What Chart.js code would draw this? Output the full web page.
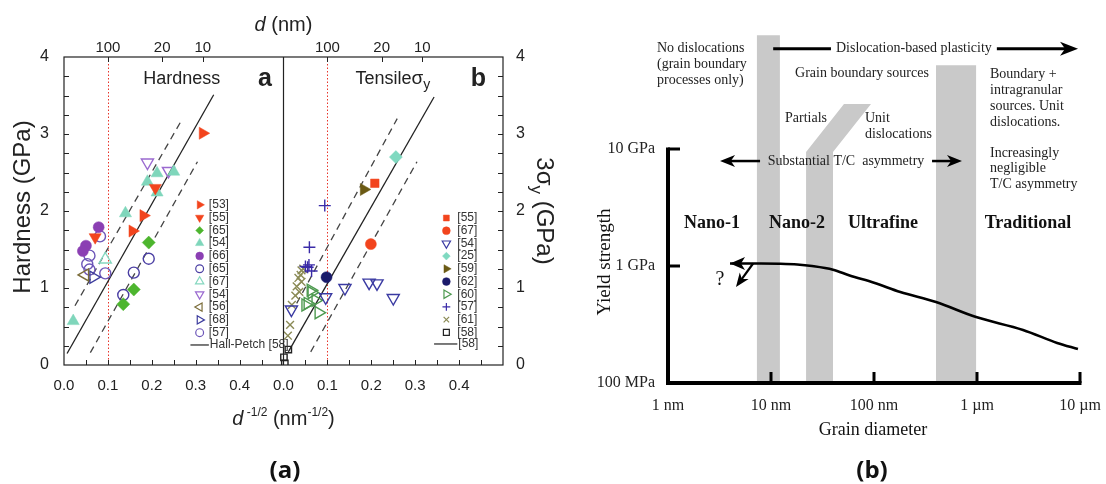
<!DOCTYPE html>
<html><head><meta charset="utf-8">
<script src="https://cdn.jsdelivr.net/npm/chart.js@4.4.1/dist/chart.umd.min.js"></script>
<style>
html,body{margin:0;padding:0;background:#fff;}
body{width:1106px;height:484px;position:relative;overflow:hidden;}
#ca{position:absolute;left:0;top:0;}
#cb{position:absolute;left:560px;top:0;}
.cap{position:absolute;top:453px;width:80px;text-align:center;font:bold 24px "Open Sans","DejaVu Sans",sans-serif;line-height:32px;color:#111;}
</style></head><body>
<canvas id="ca" width="560" height="484"></canvas>
<canvas id="cb" width="546" height="484"></canvas>
<div class="cap" style="left:245px">(a)</div>
<div class="cap" style="left:832px">(b)</div>
<script>
const FA='"Liberation Sans", Arial, Helvetica, sans-serif';
const FT='"Liberation Serif", "Times New Roman", Times, serif';

// ================= (a) data : x = d^-1/2 (nm^-1/2), y = GPa =================
const xTickVals=[0,0.1,0.2,0.3,0.4];
const yTickVals=[0,1,2,3,4];
const topTickD=[100,20,10];           // d (nm) on top axis

// Hardness panel
const hard53=[[0.156,1.74],[0.181,1.94],[0.316,3.01]];
const hard55=[[0.071,1.66],[0.208,2.30]];
const hard65a=[[0.135,0.79],[0.159,0.98],[0.193,1.59]];
const hard54a=[[0.021,0.57],[0.140,1.97],[0.190,2.38],[0.212,2.24],[0.212,2.49],[0.250,2.51]];
const hard66=[[0.079,1.79],[0.050,1.55],[0.043,1.48]];
const hard65b=[[0.135,0.91],[0.159,1.20],[0.193,1.38]];
const hard67=[[0.094,1.37]];
const hard54b=[[0.190,2.63],[0.238,2.52]];
const hard56=[[0.048,1.17]];
const hard68=[[0.067,1.14]];
const hard57=[[0.082,1.67],[0.058,1.42],[0.053,1.31],[0.058,1.24],[0.094,1.19]];
const hardHP=[[0.007,0.15],[0.341,3.51]];
const hardUpper=[[0.025,0.77],[0.270,3.20]];
const hardLower=[[0.060,0.16],[0.304,2.64]];

// Tensile panel (3 sigma_y)
const ten55=[[0.208,2.36]];
const ten67=[[0.199,1.57]];
const ten54=[[0.140,1.00],[0.195,1.07],[0.213,1.06],[0.250,0.87],[0.096,0.88],[0.018,0.72]];
const ten25=[[0.256,2.70]];
const ten59=[[0.183,2.28]];
const ten62=[[0.098,1.14]];
const ten60=[[0.064,0.94],[0.055,0.80],[0.080,0.68],[0.073,0.84],[0.062,0.97],[0.050,0.78]];
const ten57=[[0.094,2.07],[0.059,1.53],[0.055,1.27],[0.064,1.22],[0.050,1.28],[0.058,1.30]];
const ten61=[[0.041,1.23],[0.034,1.13],[0.030,1.02],[0.027,0.90],[0.019,0.78],[0.015,0.52],[0.010,0.38],[0.039,1.17],[0.041,1.08],[0.045,1.25],[0.036,0.95]];
const ten58=[[0.011,0.20],[0.001,0.10],[0.003,0.02]];
const tenHP=[[0.011,0.17],[0.343,3.48]];
const tenUpper=[[0.030,0.80],[0.259,3.20]];
const tenLower=[[0.062,0.17],[0.304,2.64]];

// ================= (b) data : grain diameter (nm) vs yield strength (MPa) =================
const gdTicks=[1,10,100,1000,10000];
const gdLabels=['1 nm','10 nm','100 nm','1 \u00b5m','10 \u00b5m'];
const ysTicks=[100,1000,10000];
const ysLabels=['100 MPa','1 GPa','10 GPa'];
const curveD=[4.0,8,12,18,25,40,58,100,180,400,980,2800,6000,9550];
const curveS=[1050,1050,1045,1030,1000,930,830,720,600,492,366,284,220,195];
const band1=[[7.3,100],[7.3,94000],[12.2,94000],[12.2,100]];
const band2=[[21.9,100],[21.9,9430],[51.1,24250],[93.5,24250],[40.0,9430],[40.0,100]];
const band3=[[400,100],[400,52000],[980,52000],[980,100]];

// ================= styles =================
const RED='#f2441d';
const hardSeries=[
 {ref:'[53]',pts:hard53,shape:'triangle',rot:90,color:RED,filled:true},
 {ref:'[55]',pts:hard55,shape:'triangle',rot:180,color:RED,filled:true},
 {ref:'[65]',pts:hard65a,shape:'rectRot',rot:0,color:'#4db52e',filled:true},
 {ref:'[54]',pts:hard54a,shape:'triangle',rot:0,color:'#7fd6bb',filled:true},
 {ref:'[66]',pts:hard66,shape:'circle',rot:0,color:'#8b3fb3',filled:true},
 {ref:'[65]',pts:hard65b,shape:'circle',rot:0,color:'#4a3ea3',filled:false},
 {ref:'[67]',pts:hard67,shape:'triangle',rot:0,color:'#86d8c0',filled:false},
 {ref:'[54]',pts:hard54b,shape:'triangle',rot:180,color:'#9a6ad0',filled:false},
 {ref:'[56]',pts:hard56,shape:'triangle',rot:-90,color:'#7b6d3a',filled:false},
 {ref:'[68]',pts:hard68,shape:'triangle',rot:90,color:'#3d3d9e',filled:false},
 {ref:'[57]',pts:hard57,shape:'circle',rot:0,color:'#6d56b8',filled:false}
];
const tenSeries=[
 {ref:'[55]',pts:ten55,shape:'rect',rot:0,color:RED,filled:true},
 {ref:'[67]',pts:ten67,shape:'circle',rot:0,color:RED,filled:true},
 {ref:'[54]',pts:ten54,shape:'triangle',rot:180,color:'#3a3aa2',filled:false},
 {ref:'[25]',pts:ten25,shape:'rectRot',rot:0,color:'#7fd9c0',filled:true},
 {ref:'[59]',pts:ten59,shape:'triangle',rot:90,color:'#6b5a14',filled:true},
 {ref:'[62]',pts:ten62,shape:'circle',rot:0,color:'#1b1b6b',filled:true},
 {ref:'[60]',pts:ten60,shape:'triangle',rot:90,color:'#4e9a50',filled:false},
 {ref:'[57]',pts:ten57,shape:'cross',rot:0,color:'#3a2ba8',filled:false},
 {ref:'[61]',pts:ten61,shape:'crossRot',rot:0,color:'#8a8a55',filled:false},
 {ref:'[58]',pts:ten58,shape:'rect',rot:0,color:'#222',filled:false}
];
const RAD={triangle:7,circle:5.5,rect:6,rectRot:6.5,cross:6,crossRot:5.5};

function markerSet(series,off){
 return series.map(s=>({
  type:'scatter', label:s.ref,
  data:s.pts.map(p=>({x:p[0]+off,y:p[1]})),
  pointStyle:s.shape, pointRotation:s.rot,
  pointRadius:(s.ref==='[58]'&&s.shape==='rect')?4.5:RAD[s.shape],
  pointBackgroundColor:s.filled?s.color:'rgba(0,0,0,0)',
  pointBorderColor:s.color, pointBorderWidth:s.filled?0.5:1.4,
  showLine:false
 }));
}
function lineSet(pts,off,dash){
 return {type:'scatter',data:pts.map(p=>({x:p[0]+off,y:p[1]})),showLine:true,
  borderColor:dash?'#444':'#222',borderWidth:1.3,borderDash:dash?[7,5]:[],pointRadius:0};
}

const dsA=[...markerSet(hardSeries,0),...markerSet(tenSeries,0.5),
 lineSet(hardHP,0,false),lineSet(hardUpper,0,true),lineSet(hardLower,0,true),
 lineSet(tenHP,0.5,false),lineSet(tenUpper,0.5,true),lineSet(tenLower,0.5,true)];

function drawMarker(ctx,s,x,y,r){
 ctx.save();
 ctx.fillStyle=s.filled?s.color:'rgba(0,0,0,0)';
 ctx.strokeStyle=s.color; ctx.lineWidth=s.filled?0.5:1.2;
 if(Chart.helpers&&Chart.helpers.drawPoint){
  Chart.helpers.drawPoint(ctx,{pointStyle:s.shape,rotation:s.rot,radius:r,borderWidth:ctx.lineWidth},x,y);
 }else{ctx.beginPath();ctx.arc(x,y,r,0,Math.PI*2);ctx.fill();ctx.stroke();}
 ctx.restore();
}
function rich(ctx,x,y,parts,rot){
 ctx.save();ctx.translate(x,y);ctx.rotate(rot||0);ctx.textBaseline='alphabetic';ctx.textAlign='left';
 let w=0;parts.forEach(p=>{ctx.font=p.f;p.w=ctx.measureText(p.t).width;w+=p.w;});
 let cx=-w/2;parts.forEach(p=>{ctx.font=p.f;ctx.fillText(p.t,cx,p.dy||0);cx+=p.w;});
 ctx.restore();
}
function seg(ctx,x1,y1,x2,y2){ctx.beginPath();ctx.moveTo(x1,y1);ctx.lineTo(x2,y2);ctx.stroke();}

const aPlugin={
 id:'adeco',
 beforeDatasetsDraw(chart){
  const {ctx,chartArea:ca,scales:{x}}=chart;
  ctx.save();ctx.strokeStyle='#e8342a';ctx.lineWidth=1;ctx.setLineDash([1.5,2]);
  [0,0.5].forEach(off=>{const px=Math.round(x.getPixelForValue(off+1/Math.sqrt(topTickD[0])))+0.5;seg(ctx,px,ca.top,px,ca.bottom);});
  ctx.restore();
 },
 afterDatasetsDraw(chart){
  const {ctx,chartArea:ca,scales:{x,y}}=chart;
  ctx.save();
  ctx.strokeStyle='#222';ctx.lineWidth=1.2;
  ctx.strokeRect(ca.left,ca.top,ca.right-ca.left,ca.bottom-ca.top);
  const mid=x.getPixelForValue(0.5);seg(ctx,mid,ca.top,mid,ca.bottom);
  ctx.lineWidth=1;
  const ystep=(yTickVals[1]-yTickVals[0])/4;
  for(let v=yTickVals[0]+ystep;v<yTickVals[yTickVals.length-1];v+=ystep){
   const py=Math.round(y.getPixelForValue(v))+0.5;
   seg(ctx,ca.left,py,ca.left+5,py);seg(ctx,ca.right-5,py,ca.right,py);
  }
  const xstep=(xTickVals[1]-xTickVals[0])/2;
  for(let i=1;i<20;i++){ if(i===10) continue; const px=Math.round(x.getPixelForValue(i*xstep))+0.5; seg(ctx,px,ca.bottom,px,ca.bottom-5);}
  [0,0.5].forEach(off=>topTickD.forEach(d=>{const px=Math.round(x.getPixelForValue(off+1/Math.sqrt(d)))+0.5;seg(ctx,px,ca.top,px,ca.top+5);}));
  // titles
  ctx.fillStyle='#222';
  const cx=(ca.left+ca.right)/2;
  rich(ctx,30,(ca.top+ca.bottom)/2-4,[{t:'Hardness (GPa)',f:'24px '+FA}],-Math.PI/2);
  rich(ctx,537,(ca.top+ca.bottom)/2,[{t:'3\u03c3',f:'24px '+FA},{t:'y',f:'17px '+FA,dy:6},{t:' (GPa)',f:'24px '+FA}],Math.PI/2);
  rich(ctx,cx,31,[{t:'d',f:'italic 20px '+FA},{t:' (nm)',f:'20px '+FA}]);
  rich(ctx,cx,425,[{t:'d',f:'italic 20px '+FA},{t:' -1/2',f:'12px '+FA,dy:-9},{t:' (nm',f:'20px '+FA},{t:'-1/2',f:'12px '+FA,dy:-9},{t:')',f:'20px '+FA}]);
  const ty=y.getPixelForValue(3.73)+6;
  rich(ctx,x.getPixelForValue(0.268),ty,[{t:'Hardness',f:'18px '+FA}]);
  rich(ctx,x.getPixelForValue(0.458),ty+2,[{t:'a',f:'bold 25px '+FA}]);
  rich(ctx,x.getPixelForValue(0.749),ty,[{t:'Tensile',f:'18px '+FA},{t:'\u03c3',f:'19px '+FA},{t:'y',f:'14px '+FA,dy:5}]);
  rich(ctx,x.getPixelForValue(0.944),ty+2,[{t:'b',f:'bold 25px '+FA}]);
  // legends
  const leg=(series,mv,lv,h0,dh,lineH,l0,l1,lineTxt)=>{
   ctx.font='12px '+FA;ctx.textBaseline='middle';ctx.textAlign='left';
   series.forEach((s,i)=>{
    const py=y.getPixelForValue(h0-i*dh);
    drawMarker(ctx,s,x.getPixelForValue(mv),py,s.shape==='triangle'?4.8:(s.shape==='rect'?4.2:3.9));
    ctx.fillStyle='#333';ctx.fillText(s.ref,x.getPixelForValue(lv),py);
   });
   const py=y.getPixelForValue(lineH);
   ctx.strokeStyle='#222';ctx.lineWidth=1.2;seg(ctx,x.getPixelForValue(l0),py,x.getPixelForValue(l1),py);
   ctx.fillStyle='#333';ctx.fillText(lineTxt,x.getPixelForValue(l1)+1,py);
  };
  leg(hardSeries,0.309,0.330,2.08,0.166,0.26,0.288,0.330,'Hall-Petch [58]');
  leg(tenSeries,0.871,0.896,1.909,0.165,0.273,0.843,0.896,'[58]');
  ctx.restore();
 }
};

new Chart(document.getElementById('ca'),{
 type:'scatter',
 data:{datasets:dsA},
 options:{
  responsive:false,animation:false,events:[],
  layout:{padding:0},
  plugins:{legend:{display:false},tooltip:{enabled:false}},
  scales:{
   x:{type:'linear',position:'bottom',min:0,max:1,
      afterBuildTicks:s=>{s.ticks=[...xTickVals,...xTickVals.map(v=>v+0.5)].map(v=>({value:v}));},
      ticks:{callback:v=>(v>=0.5-1e-9?v-0.5:v).toFixed(1),font:{family:FA,size:15},color:'#222',padding:4,maxRotation:0,minRotation:0,autoSkip:false},
      grid:{display:false},border:{display:false},afterFit:s=>{s.height=119;}},
   x2:{type:'linear',position:'top',min:0,max:1,
      afterBuildTicks:s=>{s.ticks=[...topTickD,...topTickD].map((d,i)=>({value:(i<3?0:0.5)+1/Math.sqrt(d)}));},
      ticks:{callback:(v,i)=>String(topTickD[i%3]),font:{family:FA,size:15},color:'#222',padding:-8,maxRotation:0,minRotation:0,autoSkip:false},
      grid:{display:false},border:{display:false},afterFit:s=>{s.height=57;}},
   y:{type:'linear',position:'left',min:0,max:4,
      afterBuildTicks:s=>{s.ticks=yTickVals.map(v=>({value:v}));},
      ticks:{font:{family:FA,size:16},color:'#222',padding:7},
      grid:{display:false},border:{display:false},afterFit:s=>{s.width=64;}},
   y2:{type:'linear',position:'right',min:0,max:4,
      afterBuildTicks:s=>{s.ticks=yTickVals.map(v=>({value:v}));},
      ticks:{font:{family:FA,size:16},color:'#222',padding:5},
      grid:{display:false},border:{display:false},afterFit:s=>{s.width=57;}}
  }
 },
 plugins:[aPlugin]
});

// ================= (b) =================
const notes=[
 {t:'No dislocations',d:0.782,s:72900,a:'left'},
 {t:'(grain boundary',d:0.782,s:53240,a:'left'},
 {t:'processes only)',d:0.782,s:38890,a:'left'},
 {t:'Grain boundary sources',d:76.4,s:44630,a:'center'},
 {t:'Partials',d:21.9,s:18400,a:'center'},
 {t:'Unit',d:81.8,s:18400,a:'left'},
 {t:'dislocations',d:81.8,s:13430,a:'left'},
 {t:'Boundary +',d:1337,s:43750,a:'left'},
 {t:'intragranular',d:1337,s:31930,a:'left'},
 {t:'sources. Unit',d:1337,s:23320,a:'left'},
 {t:'dislocations.',d:1337,s:17020,a:'left'},
 {t:'Increasingly',d:1337,s:9240,a:'left'},
 {t:'negligible',d:1337,s:6880,a:'left'},
 {t:'T/C asymmetry',d:1337,s:5020,a:'left'}
];
const regions=[{t:'Nano-1',d:2.67},{t:'Nano-2',d:17.9},{t:'Ultrafine',d:122},{t:'Traditional',d:3126}];
const regionS=2330;

function arrowTo(ctx,x1,y1,x2,y2,lw,hl,hw){
 const ang=Math.atan2(y2-y1,x2-x1);
 ctx.lineWidth=lw;ctx.beginPath();ctx.moveTo(x1,y1);ctx.lineTo(x2-Math.cos(ang)*hl*0.7,y2-Math.sin(ang)*hl*0.7);ctx.stroke();
 ctx.save();ctx.translate(x2,y2);ctx.rotate(ang);ctx.beginPath();ctx.moveTo(0,0);ctx.lineTo(-hl,-hw/2);ctx.lineTo(-hl*0.72,0);ctx.lineTo(-hl,hw/2);ctx.closePath();ctx.fill();ctx.restore();
}

const bPlugin={
 id:'bdeco',
 beforeDatasetsDraw(chart){
  const {ctx,scales:{x,y}}=chart;
  ctx.save();ctx.fillStyle='#c9c9c9';
  [band1,band2,band3].forEach(poly=>{ctx.beginPath();poly.forEach(([d,s],i)=>{const px=x.getPixelForValue(d),py=y.getPixelForValue(s);i?ctx.lineTo(px,py):ctx.moveTo(px,py);});ctx.closePath();ctx.fill();});
  ctx.restore();
 },
 afterDatasetsDraw(chart){
  const {ctx,scales:{x,y}}=chart;
  const X=d=>x.getPixelForValue(d),Y=s=>y.getPixelForValue(s);
  ctx.save();
  ctx.strokeStyle='#000';ctx.fillStyle='#000';ctx.lineCap='butt';
  const x0=X(gdTicks[0]),yb=Y(ysTicks[0]),yt=Y(ysTicks[ysTicks.length-1]),xr=X(gdTicks[gdTicks.length-1]);
  ctx.lineWidth=4;
  seg(ctx,x0,yt-1.5,x0,yb+2);seg(ctx,x0-2,yb,xr+1.5,yb);
  ctx.lineWidth=3;
  ysTicks.slice(1).forEach(s=>{const py=Y(s);seg(ctx,x0,py,x0+12,py);});
  gdTicks.slice(1).forEach(d=>{const px=X(d);seg(ctx,px,yb,px,yb-11);});
  // curve arrows
  ctx.save();ctx.translate(X(curveD[0]),Y(curveS[0]));ctx.beginPath();ctx.moveTo(0,0);ctx.lineTo(15,-6.5);ctx.lineTo(11,0);ctx.lineTo(15,6.5);ctx.closePath();ctx.fill();ctx.restore();
  ctx.lineWidth=2.2;arrowTo(ctx,X(6.7),Y(1050),X(4.57),Y(661),2.2,14,11);
  // texts
  ctx.fillStyle='#222';ctx.textBaseline='middle';
  ctx.font='14px '+FT;
  notes.forEach(n=>{ctx.textAlign=n.a;ctx.fillText(n.t,X(n.d),Y(n.s));});
  // Dislocation-based plasticity arrow
  ctx.textAlign='center';
  const dtx=X(244),dty=Y(72000);const dtxt='Dislocation-based plasticity';const dw=ctx.measureText(dtxt).width;
  ctx.fillText(dtxt,dtx,dty);
  ctx.fillStyle='#000';ctx.lineWidth=3;
  seg(ctx,X(10.5),dty,dtx-dw/2-5,dty);
  arrowTo(ctx,dtx+dw/2+5,dty,X(9570),dty,3,18,14);
  // T/C asymmetry arrows
  ctx.fillStyle='#222';
  const ttx=X(53.5),tty=Y(7890);ctx.fillText('Substantial T/C  asymmetry',ttx,tty);
  ctx.fillStyle='#000';
  arrowTo(ctx,X(7.83),tty,X(3.2),tty,2.5,15,12);
  arrowTo(ctx,X(366),tty,X(715),tty,2.5,15,12);
  // regions
  ctx.fillStyle='#111';ctx.font='bold 18px '+FT;ctx.textAlign='center';
  regions.forEach(r=>ctx.fillText(r.t,X(r.d),Y(regionS)));
  ctx.font='20px '+FT;ctx.fillText('?',X(3.2),Y(759));
  ctx.font='18px '+FT;ctx.fillText('Grain diameter',X(97.8),Y(39.6));
  ctx.save();ctx.translate(X(0.245),Y(1081));ctx.rotate(-Math.PI/2);ctx.font='19px '+FT;ctx.fillText('Yield strength',0,0);ctx.restore();
  ctx.restore();
 }
};

new Chart(document.getElementById('cb'),{
 type:'scatter',
 data:{datasets:[{data:curveD.map((d,i)=>({x:d,y:curveS[i]})),showLine:true,borderColor:'#000',borderWidth:2.6,pointRadius:0,cubicInterpolationMode:'monotone'}]},
 options:{
  responsive:false,animation:false,events:[],
  layout:{padding:{top:32,right:26,left:0,bottom:0}},
  plugins:{legend:{display:false},tooltip:{enabled:false}},
  scales:{
   x:{type:'logarithmic',position:'bottom',min:1,max:10000,
      afterBuildTicks:s=>{s.ticks=gdTicks.map(v=>({value:v}));},
      ticks:{callback:(v,i)=>gdLabels[i],font:{family:FT,size:16},color:'#222',padding:5,maxRotation:0,minRotation:0,autoSkip:false},
      grid:{display:false},border:{display:false},afterFit:s=>{s.height=101;}},
   y:{type:'logarithmic',position:'left',min:100,max:100000,
      afterBuildTicks:s=>{s.ticks=ysTicks.map(v=>({value:v}));},
      ticks:{callback:(v,i)=>ysLabels[i],font:{family:FT,size:16},color:'#222',padding:5,autoSkip:false},
      grid:{display:false},border:{display:false},afterFit:s=>{s.width=108;}}
  }
 },
 plugins:[bPlugin]
});
</script>
</body></html>
